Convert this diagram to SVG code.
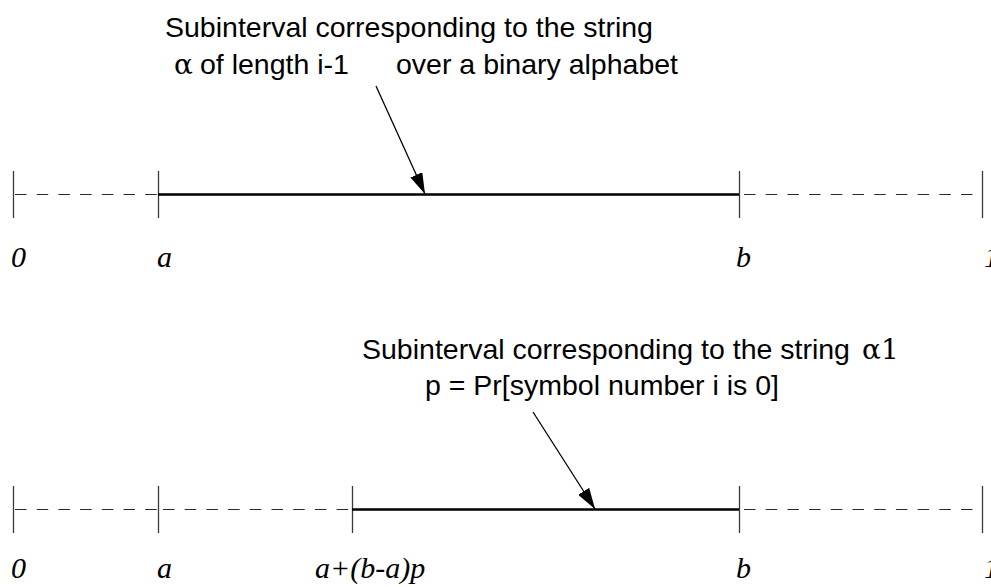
<svg xmlns="http://www.w3.org/2000/svg" width="991" height="587" viewBox="0 0 991 587">
<style>
.tick{stroke:#3a3a3a;stroke-width:1.3;fill:none}
.dash{stroke:#2a2a2a;stroke-width:1.1;stroke-dasharray:11.5 10.2;fill:none}
.solid{stroke:#000;stroke-width:2.6;fill:none}
.arr{stroke:#000;stroke-width:1.3;fill:none;marker-end:url(#ah)}
.lab{font-family:"Liberation Serif",serif;font-style:italic;font-size:30px;fill:#000}
.txt{font-family:"Liberation Sans",Arial,sans-serif;font-size:28.5px;fill:#000}
.sym{font-family:"DejaVu Serif","Liberation Serif",serif;font-size:28px;fill:#000}
</style>
<defs>
<marker id="ah" viewBox="0 0 21 13" refX="21" refY="6.5" markerWidth="21" markerHeight="13" markerUnits="userSpaceOnUse" orient="auto">
<path d="M0,0 L21,6.5 L0,13 Z" fill="#000"/>
</marker>
</defs>
<rect width="991" height="587" fill="#fff"/>
<g id="top-line">
<line class="tick" x1="13.5" y1="171" x2="13.5" y2="218"/>
<line class="tick" x1="158.5" y1="171" x2="158.5" y2="218"/>
<line class="tick" x1="739.5" y1="171" x2="739.5" y2="218"/>
<line class="tick" x1="982.5" y1="171" x2="982.5" y2="218"/>
<line class="dash" x1="13" y1="194.5" x2="158" y2="194.5" stroke-dashoffset="-2"/>
<line class="solid" x1="158" y1="194.5" x2="739" y2="194.5"/>
<line class="dash" x1="739" y1="194.5" x2="982" y2="194.5" stroke-dashoffset="-5"/>
</g>
<g id="top-labels">
<text class="lab" x="11" y="267">0</text>
<text class="lab" x="157" y="267">a</text>
<text class="lab" x="736" y="267">b</text>
<text class="lab" x="984" y="267">1</text>
</g>
<g id="top-text">
<text class="txt" x="165" y="37">Subinterval corresponding to the string</text>
<text class="sym" x="174" y="74">α</text>
<text class="txt" x="200" y="74">of length i-1</text>
<text class="txt" x="396" y="74">over a binary alphabet</text>
</g>
<g id="bottom-line">
<line class="tick" x1="13.5" y1="486" x2="13.5" y2="533"/>
<line class="tick" x1="158.5" y1="486" x2="158.5" y2="533"/>
<line class="tick" x1="352.5" y1="486" x2="352.5" y2="533"/>
<line class="tick" x1="739.5" y1="486" x2="739.5" y2="533"/>
<line class="tick" x1="982.5" y1="486" x2="982.5" y2="533"/>
<line class="dash" x1="13" y1="509.5" x2="158" y2="509.5" stroke-dashoffset="-2"/>
<line class="dash" x1="158" y1="509.5" x2="352" y2="509.5" stroke-dashoffset="-5"/>
<line class="solid" x1="352" y1="509.5" x2="739" y2="509.5"/>
<line class="dash" x1="739" y1="509.5" x2="982" y2="509.5" stroke-dashoffset="-5"/>
</g>
<g id="bottom-labels">
<text class="lab" x="11" y="578">0</text>
<text class="lab" x="157" y="578">a</text>
<text class="lab" x="315" y="578">a+(b-a)p</text>
<text class="lab" x="736" y="578">b</text>
<text class="lab" x="984" y="578">1</text>
</g>
<g id="bottom-text">
<text class="txt" x="362" y="359">Subinterval corresponding to the string</text>
<text class="sym" x="862" y="359">α1</text>
<text class="txt" x="425" y="395">p = Pr[symbol number i is 0]</text>
</g>
<g id="connectors">
<line class="arr" x1="376" y1="86" x2="425" y2="194"/>
<line class="arr" x1="533" y1="412" x2="595" y2="509"/>
</g>
</svg>
